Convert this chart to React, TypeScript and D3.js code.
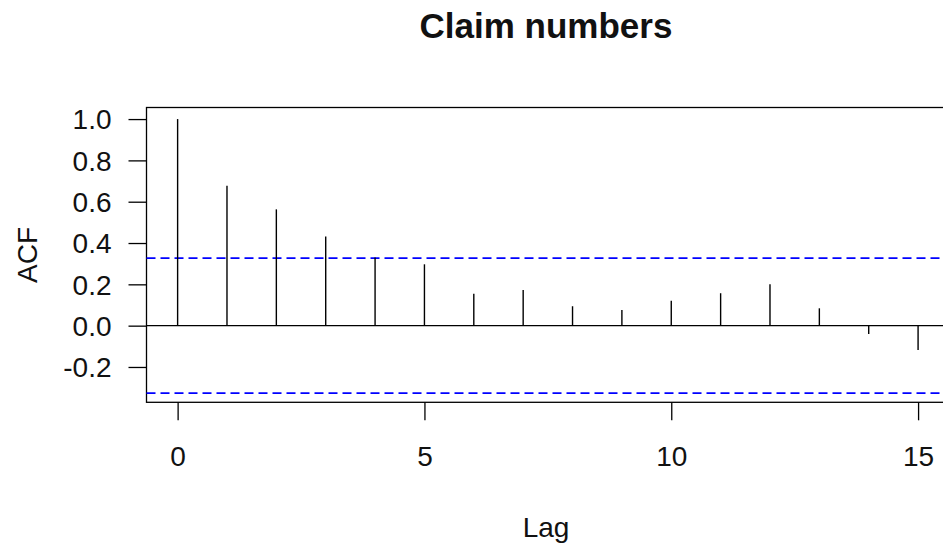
import React, { useRef, useEffect } from 'react';
import * as d3 from 'd3';

// ACF values, lags 0..15
const lags = [0, 1, 2, 3, 4, 5, 6, 7, 8, 9, 10, 11, 12, 13, 14, 15];
const acfValues = [1.0, 0.677, 0.563, 0.431, 0.33, 0.297, 0.155, 0.173, 0.094, 0.076, 0.12, 0.157, 0.2, 0.084, -0.04, -0.118];
const confLimit = 0.327;
const yTicks = [-0.2, 0.0, 0.2, 0.4, 0.6, 0.8, 1.0];
const xTicks = [0, 5, 10, 15];

const App = () => {
    const ref = useRef<SVGSVGElement>(null);

    useEffect(() => {
        const svg = d3.select(ref.current);
        svg.selectAll("*").remove();

        const left = 146.5, top = 107.5, bottom = 402.3;
        const font = "Liberation Sans, Arial, sans-serif";

        const x = d3.scaleLinear().domain([-0.6, 15.6]).range([148, 947.7]);
        const y = d3.scaleLinear().domain([-0.371, 1.056]).range([bottom, top]);

        // plot box (runs off the right edge like the reference)
        svg.append("rect")
            .attr("x", left).attr("y", top)
            .attr("width", 1000).attr("height", bottom - top)
            .attr("fill", "none").attr("stroke", "black").attr("stroke-width", 1.3);

        // y axis, plain hyphen for negatives like R
        const yAxis = svg.append("g")
            .attr("transform", `translate(${left},0)`)
            .call(d3.axisLeft(y).tickValues(yTicks).tickFormat(d => (+d).toFixed(1)).tickSize(18).tickPadding(35));
        yAxis.select(".domain").remove();
        yAxis.selectAll("line").attr("stroke", "black").attr("stroke-width", 1.3);
        yAxis.selectAll("text")
            .attr("font-family", font).attr("font-size", 28).attr("fill", "#111")
            .attr("text-anchor", "end").attr("dy", "0.35em").attr("x", -35);

        // x axis
        const xAxis = svg.append("g")
            .attr("transform", `translate(0,${bottom})`)
            .call(d3.axisBottom(x).tickValues(xTicks).tickFormat(d3.format("d")).tickSize(18).tickPadding(0));
        xAxis.select(".domain").remove();
        xAxis.selectAll("line").attr("stroke", "black").attr("stroke-width", 1.3);
        xAxis.selectAll("text")
            .attr("font-family", font).attr("font-size", 28).attr("fill", "#111")
            .attr("dy", null).attr("y", 64);

        // zero line
        svg.append("line")
            .attr("x1", left).attr("x2", 943)
            .attr("y1", y(0)).attr("y2", y(0))
            .attr("stroke", "black").attr("stroke-width", 1.3);

        // confidence limits
        [confLimit, -confLimit].forEach(c => {
            svg.append("line")
                .attr("x1", left).attr("x2", 943)
                .attr("y1", y(c)).attr("y2", y(c))
                .attr("stroke", "#0000ff").attr("stroke-width", 1.8)
                .attr("stroke-dasharray", "9 5");
        });

        // sticks
        svg.append("g").selectAll("line")
            .data(lags)
            .join("line")
            .attr("x1", d => x(d)).attr("x2", d => x(d))
            .attr("y1", y(0)).attr("y2", (d, i) => y(acfValues[i]))
            .attr("stroke", "black").attr("stroke-width", 1.4);

        // title and axis labels
        svg.append("text")
            .attr("x", 546).attr("y", 38)
            .attr("text-anchor", "middle")
            .attr("font-family", font).attr("font-weight", "bold").attr("font-size", 35)
            .attr("fill", "#111")
            .text("Claim numbers");

        svg.append("text")
            .attr("x", 546).attr("y", 537)
            .attr("text-anchor", "middle")
            .attr("font-family", font).attr("font-size", 28).attr("fill", "#111")
            .text("Lag");

        svg.append("text")
            .attr("transform", `translate(36.7,255) rotate(-90)`)
            .attr("text-anchor", "middle")
            .attr("font-family", font).attr("font-size", 28).attr("fill", "#111")
            .text("ACF");
    }, []);

    return (
        <svg ref={ref} width="943" height="546" style={{ position: "absolute", left: 0, top: 0 }}></svg>
    );
};

export default App;
